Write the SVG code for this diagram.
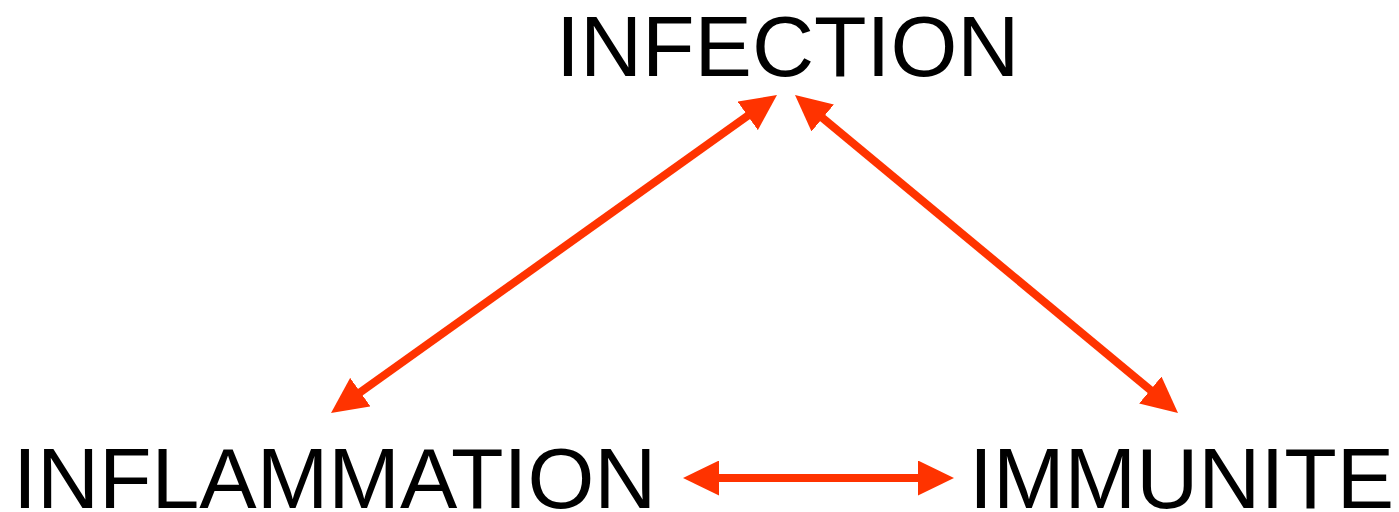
<svg xmlns="http://www.w3.org/2000/svg" width="1399" height="512" viewBox="0 0 1399 512">
<style>
.lbl{font-family:"Liberation Sans",Arial,sans-serif;font-size:86px;fill:#000}
.conn{stroke:#FF3300;stroke-width:8;fill:none}
</style>
<defs>
<marker id="ah" markerUnits="userSpaceOnUse" markerWidth="36" markerHeight="35" refX="16" refY="17.5" orient="auto-start-reverse" viewBox="0 0 36 35">
<path d="M0,0 L36,17.5 L0,35 z" fill="#FF3300"/>
</marker>
</defs>
<rect width="1399" height="512" fill="#fff"/>
<g id="connectors">
<line class="conn" x1="347.3" y1="401.4" x2="760.7" y2="106.6" marker-start="url(#ah)" marker-end="url(#ah)"/>
<line class="conn" x1="810.4" y1="107.8" x2="1162.6" y2="400.2" marker-start="url(#ah)" marker-end="url(#ah)"/>
<line class="conn" x1="703" y1="478" x2="934" y2="478" marker-start="url(#ah)" marker-end="url(#ah)"/>
</g>
<g id="infection"><text class="lbl" x="556" y="76">INFECTION</text></g>
<g id="inflammation"><text class="lbl" x="13" y="508">INFLAMMATION</text></g>
<g id="immunite"><text class="lbl" x="969" y="508">IMMUNITE</text></g>
</svg>
